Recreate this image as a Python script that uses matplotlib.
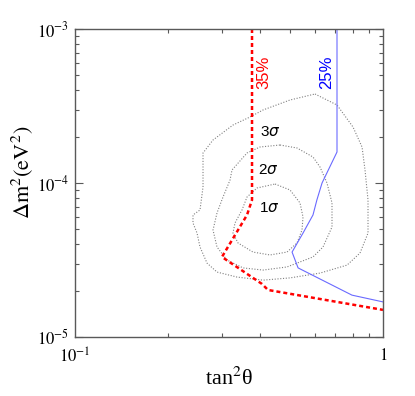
import numpy as np
import matplotlib
matplotlib.use('Agg')
import matplotlib.pyplot as plt
from matplotlib.ticker import LogLocator, FixedLocator, NullFormatter

plt.rcParams['mathtext.fontset'] = 'stix'
plt.rcParams['font.family'] = ['Liberation Serif', 'DejaVu Serif']

# contour lines (tan^2 theta, dm^2 in units of 1e-5 eV^2)
sig1_x = [0.4461, 0.4990, 0.5377, 0.5499, 0.5458, 0.5258, 0.4879, 0.4297,
          0.3784, 0.3382, 0.3258, 0.3307, 0.3485, 0.3618, 0.3899, 0.4461]
sig1_y = [9.85, 9.01, 7.42, 6.01, 4.95, 4.08, 3.56, 3.41,
          3.56, 4.08, 4.73, 5.50, 6.68, 8.11, 9.28, 9.85]

sig2_x = [0.4630, 0.5258, 0.5925, 0.6244, 0.6579, 0.6830, 0.6830, 0.6385,
          0.5925, 0.4879, 0.4078, 0.3511, 0.3116, 0.2891, 0.2806, 0.2891,
          0.3024, 0.3187, 0.3234, 0.3618, 0.3988, 0.4630]
sig2_y = [17.65, 16.88, 14.75, 12.70, 10.0, 7.42, 5.18, 3.84,
          3.31, 2.85, 2.72, 2.81, 3.16, 3.84, 4.95, 6.39,
          8.11, 10.46, 12.15, 15.66, 17.13, 17.65]

sig3_x = [0.6014, 0.7090, 0.7991, 0.8550, 0.8742, 0.8940, 0.8940, 0.8421,
          0.7642, 0.6244, 0.4990, 0.4078, 0.3357, 0.2891, 0.2683, 0.2546,
          0.2490, 0.2416, 0.2416, 0.2546, 0.2604, 0.2604, 0.2806, 0.3258,
          0.3700, 0.4078, 0.4990, 0.6014]
sig3_y = [37.84, 32.09, 23.10, 17.13, 12.15, 7.76, 4.73, 3.51,
          2.93, 2.60, 2.42, 2.34, 2.45, 2.64, 3.02, 3.84,
          4.73, 5.50, 6.20, 6.68, 9.42, 15.66, 19.02, 23.79,
          26.83, 29.79, 34.59, 37.84]

# 35% line (red) and 25% line (blue)
red_x = [0.3756, 0.3756, 0.3618, 0.300, 0.4047, 0.4233, 1.0]
red_y = [100, 7.76, 6.20, 3.31, 2.21, 2.02, 1.50]
blue_x = [0.709, 0.709, 0.634, 0.610, 0.5925, 0.5499, 0.5067, 0.530, 0.793, 1.0]
blue_y = [100, 15.9, 10.0, 7.76, 6.20, 4.73, 3.56, 2.81, 1.87, 1.69]

sig_labels = ['3', '2', '1']
sig_lab_x = [0.4297, 0.4233, 0.426]
sig_lab_y = [21.4, 12.15, 6.88]

fig = plt.figure(figsize=(4.15, 3.96), dpi=100)
ax = fig.add_axes([75/415, 1-337/396, 308/415, 308/396])

s = 1e-5
dot = dict(color='0.5', lw=0.8, ls=(0, (1, 1.5)))
ax.plot(sig1_x, np.array(sig1_y)*s, **dot)
ax.plot(sig2_x, np.array(sig2_y)*s, **dot)
ax.plot(sig3_x, np.array(sig3_y)*s, **dot)
ax.plot(blue_x, np.array(blue_y)*s, color='#6a6aff', lw=0.8)
ax.plot(red_x, np.array(red_y)*s, color='red', lw=1.8, ls=(0, (1.6, 1.2)))

for lab, x, y in zip(sig_labels, sig_lab_x, sig_lab_y):
    ax.text(x, y*s, lab + r'$\sigma$', fontsize=11, ha='center', va='center',
            family='Liberation Sans', math_fontfamily='dejavusans')

ax.text(0.411, 5.26e-4, '35%', color='red', rotation=90, fontsize=12,
        ha='center', va='center', family='Liberation Sans')
ax.text(0.658, 5.26e-4, '25%', color='blue', rotation=90, fontsize=12,
        ha='center', va='center', family='Liberation Sans')

ax.set_xscale('log')
ax.set_yscale('log')
ax.set_xlim(0.1, 1)
ax.set_ylim(1e-5, 1e-3)

ax.xaxis.set_major_locator(FixedLocator([0.1, 1]))
ax.set_xticklabels([r'$10^{-1}$', r'$1$'])
ax.xaxis.set_minor_locator(LogLocator(base=10, subs=np.arange(2, 10)))
ax.xaxis.set_minor_formatter(NullFormatter())
ax.yaxis.set_major_locator(FixedLocator([1e-5, 1e-4, 1e-3]))
ax.set_yticklabels([r'$10^{-5}$', r'$10^{-4}$', r'$10^{-3}$'])
ax.yaxis.set_minor_locator(LogLocator(base=10, subs=np.arange(2, 10)))
ax.yaxis.set_minor_formatter(NullFormatter())

ax.tick_params(which='both', direction='in', top=True, right=True,
               color='0.35', width=0.8, labelsize=12)
ax.tick_params(which='major', length=6, pad=4)
ax.tick_params(which='minor', length=3)
ax.tick_params(axis='x', which='major', length=0, pad=8)
for sp in ax.spines.values():
    sp.set_color('0.35')
    sp.set_linewidth(1.0)

ax.set_xlabel(r'tan$^2$θ', fontsize=16, labelpad=0)
fig.text(22/415, 1-172/396, r'$\Delta\mathrm{m}^2(\mathrm{eV}^2)$', fontsize=16,
         rotation=90, ha='center', va='center')

fig.savefig('out.png', dpi=100)
